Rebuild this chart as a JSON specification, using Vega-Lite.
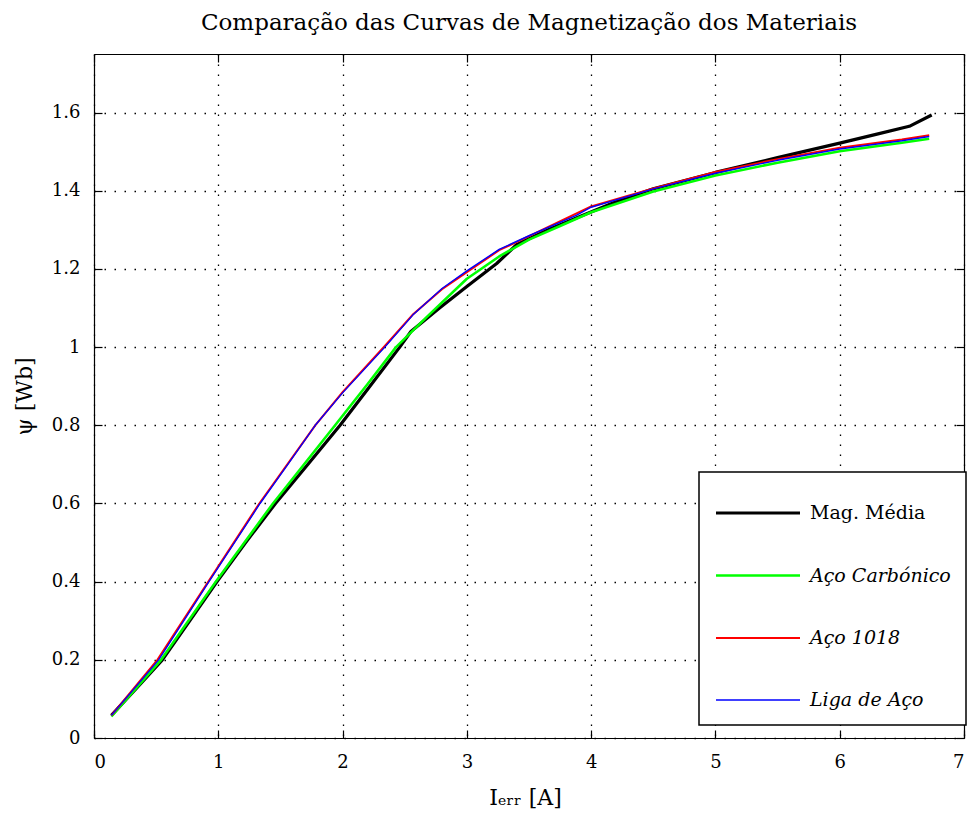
{
  "$schema": "https://vega.github.io/schema/vega-lite/v6.json",
  "width": 870,
  "height": 684,
  "autosize": {"type": "none"},
  "padding": {"left": 94, "top": 54, "right": 12, "bottom": 87},
  "background": "white",
  "title": {"text": "Comparação das Curvas de Magnetização dos Materiais", "font": "DejaVu Serif", "fontSize": 23, "fontWeight": "normal", "color": "black", "offset": 18, "anchor": "middle"},
  "config": {
    "view": {"stroke": null},
    "legend": {"strokeWidth": 1.5},
    "axis": {
      "domainColor": "black", "domainWidth": 1.2,
      "tickColor": "black", "tickSize": -8, "tickWidth": 1.2,
      "gridColor": "black", "gridDash": [1.5, 8.5], "gridWidth": 1.3, "gridOpacity": 1,
      "labelFont": "DejaVu Serif", "labelFontSize": 18, "labelColor": "black",
      "titleFont": "DejaVu Serif", "titleFontSize": 22, "titleFontWeight": "normal", "titleColor": "black"
    }
  },
  "data": {"values": [
    {"s": "Mag. Média", "I": 0.14, "psi": 0.058},
    {"s": "Mag. Média", "I": 0.35, "psi": 0.13},
    {"s": "Mag. Média", "I": 0.55, "psi": 0.20},
    {"s": "Mag. Média", "I": 0.77, "psi": 0.30},
    {"s": "Mag. Média", "I": 0.99, "psi": 0.40},
    {"s": "Mag. Média", "I": 1.22, "psi": 0.50},
    {"s": "Mag. Média", "I": 1.46, "psi": 0.60},
    {"s": "Mag. Média", "I": 1.72, "psi": 0.70},
    {"s": "Mag. Média", "I": 1.98, "psi": 0.80},
    {"s": "Mag. Média", "I": 2.22, "psi": 0.90},
    {"s": "Mag. Média", "I": 2.46, "psi": 1.00},
    {"s": "Mag. Média", "I": 2.55, "psi": 1.04},
    {"s": "Mag. Média", "I": 2.78, "psi": 1.10},
    {"s": "Mag. Média", "I": 3.0, "psi": 1.155},
    {"s": "Mag. Média", "I": 3.24, "psi": 1.214},
    {"s": "Mag. Média", "I": 3.4, "psi": 1.262},
    {"s": "Mag. Média", "I": 3.65, "psi": 1.30},
    {"s": "Mag. Média", "I": 3.9, "psi": 1.333},
    {"s": "Mag. Média", "I": 4.2, "psi": 1.372},
    {"s": "Mag. Média", "I": 4.5, "psi": 1.405},
    {"s": "Mag. Média", "I": 5.0, "psi": 1.447},
    {"s": "Mag. Média", "I": 5.5, "psi": 1.485},
    {"s": "Mag. Média", "I": 6.0, "psi": 1.522},
    {"s": "Mag. Média", "I": 6.3, "psi": 1.545},
    {"s": "Mag. Média", "I": 6.56, "psi": 1.565},
    {"s": "Mag. Média", "I": 6.74, "psi": 1.594},
    {"s": "Aço Carbónico", "I": 0.14, "psi": 0.055},
    {"s": "Aço Carbónico", "I": 0.54, "psi": 0.20},
    {"s": "Aço Carbónico", "I": 0.98, "psi": 0.40},
    {"s": "Aço Carbónico", "I": 1.44, "psi": 0.60},
    {"s": "Aço Carbónico", "I": 1.94, "psi": 0.80},
    {"s": "Aço Carbónico", "I": 2.2, "psi": 0.905},
    {"s": "Aço Carbónico", "I": 2.43, "psi": 1.00},
    {"s": "Aço Carbónico", "I": 2.67, "psi": 1.075},
    {"s": "Aço Carbónico", "I": 3.0, "psi": 1.175},
    {"s": "Aço Carbónico", "I": 3.26, "psi": 1.232},
    {"s": "Aço Carbónico", "I": 3.5, "psi": 1.275},
    {"s": "Aço Carbónico", "I": 3.75, "psi": 1.31},
    {"s": "Aço Carbónico", "I": 4.0, "psi": 1.345},
    {"s": "Aço Carbónico", "I": 4.5, "psi": 1.398},
    {"s": "Aço Carbónico", "I": 5.0, "psi": 1.439},
    {"s": "Aço Carbónico", "I": 5.5, "psi": 1.472},
    {"s": "Aço Carbónico", "I": 6.0, "psi": 1.501},
    {"s": "Aço Carbónico", "I": 6.5, "psi": 1.523},
    {"s": "Aço Carbónico", "I": 6.72, "psi": 1.533},
    {"s": "Aço 1018", "I": 0.14, "psi": 0.058},
    {"s": "Aço 1018", "I": 0.51, "psi": 0.20},
    {"s": "Aço 1018", "I": 0.92, "psi": 0.40},
    {"s": "Aço 1018", "I": 1.33, "psi": 0.60},
    {"s": "Aço 1018", "I": 1.78, "psi": 0.80},
    {"s": "Aço 1018", "I": 2.0, "psi": 0.885},
    {"s": "Aço 1018", "I": 2.34, "psi": 1.003},
    {"s": "Aço 1018", "I": 2.57, "psi": 1.085},
    {"s": "Aço 1018", "I": 2.8, "psi": 1.148},
    {"s": "Aço 1018", "I": 3.0, "psi": 1.192},
    {"s": "Aço 1018", "I": 3.26, "psi": 1.248},
    {"s": "Aço 1018", "I": 3.5, "psi": 1.284},
    {"s": "Aço 1018", "I": 4.0, "psi": 1.36},
    {"s": "Aço 1018", "I": 4.5, "psi": 1.406},
    {"s": "Aço 1018", "I": 5.0, "psi": 1.448},
    {"s": "Aço 1018", "I": 5.5, "psi": 1.481},
    {"s": "Aço 1018", "I": 6.0, "psi": 1.51},
    {"s": "Aço 1018", "I": 6.5, "psi": 1.531},
    {"s": "Aço 1018", "I": 6.72, "psi": 1.542},
    {"s": "Liga de Aço", "I": 0.14, "psi": 0.058},
    {"s": "Liga de Aço", "I": 0.52, "psi": 0.20},
    {"s": "Liga de Aço", "I": 0.925, "psi": 0.40},
    {"s": "Liga de Aço", "I": 1.336, "psi": 0.60},
    {"s": "Liga de Aço", "I": 1.56, "psi": 0.70},
    {"s": "Liga de Aço", "I": 1.78, "psi": 0.80},
    {"s": "Liga de Aço", "I": 2.0, "psi": 0.883},
    {"s": "Liga de Aço", "I": 2.34, "psi": 1.00},
    {"s": "Liga de Aço", "I": 2.565, "psi": 1.082},
    {"s": "Liga de Aço", "I": 2.8, "psi": 1.15},
    {"s": "Liga de Aço", "I": 3.0, "psi": 1.195},
    {"s": "Liga de Aço", "I": 3.26, "psi": 1.25},
    {"s": "Liga de Aço", "I": 3.5, "psi": 1.285},
    {"s": "Liga de Aço", "I": 3.88, "psi": 1.337},
    {"s": "Liga de Aço", "I": 4.0, "psi": 1.358},
    {"s": "Liga de Aço", "I": 4.5, "psi": 1.405},
    {"s": "Liga de Aço", "I": 5.0, "psi": 1.445},
    {"s": "Liga de Aço", "I": 5.5, "psi": 1.478},
    {"s": "Liga de Aço", "I": 6.0, "psi": 1.507},
    {"s": "Liga de Aço", "I": 6.5, "psi": 1.528},
    {"s": "Liga de Aço", "I": 6.72, "psi": 1.539}
  ]},
  "layer": [
    {
      "mark": {"type": "line", "strokeJoin": "round", "strokeCap": "butt"},
      "encoding": {
        "x": {"field": "I", "type": "quantitative", "scale": {"domain": [0, 7], "nice": false, "zero": false},
          "axis": {"orient": "bottom", "values": [0, 1, 2, 3, 4, 5, 6, 7], "format": "d", "grid": true, "labelPadding": 23,
            "title": "Iₑᵣᵣ [A]", "titleX": 431, "titleY": 66, "titleBaseline": "alphabetic", "titleAlign": "center"}},
        "y": {"field": "psi", "type": "quantitative", "scale": {"domain": [0, 1.75], "nice": false, "zero": false},
          "axis": {"orient": "left", "values": [0, 0.2, 0.4, 0.6, 0.8, 1, 1.2, 1.4, 1.6], "format": "~g", "grid": true, "labelPadding": 22,
            "title": "ψ [Wb]", "titleX": -70, "titleY": 342, "titleAngle": 270, "titleBaseline": "middle", "titleAlign": "center"}},
        "color": {"field": "s", "type": "nominal",
          "scale": {"domain": ["Mag. Média", "Aço Carbónico", "Aço 1018", "Liga de Aço"], "range": ["#000000", "#00ff00", "#ff0000", "#0000ff"]},
          "legend": {"title": null, "orient": "none", "legendX": 605, "legendY": 418, "strokeColor": "black", "fillColor": "white",
            "padding": 15, "symbolType": "M-1,0H2.5", "symbolSize": 2304, "labelFont": "DejaVu Serif", "labelFontSize": 19,
            "labelColor": "black", "labelOffset": 44, "rowPadding": 27, "labelLimit": 400,
            "encode": {"labels": {"update": {"fontStyle": {"signal": "datum.value === 'Mag. Média' ? 'normal' : 'italic'"}}}}}},
        "strokeWidth": {"field": "s", "type": "nominal",
          "scale": {"domain": ["Mag. Média", "Aço Carbónico", "Aço 1018", "Liga de Aço"], "range": [3.2, 1.4, 1.4, 1.4]},
          "legend": {"title": null, "orient": "none", "legendX": 605, "legendY": 418, "strokeColor": "black", "fillColor": "white",
            "padding": 15, "symbolType": "M-1,0H2.5", "symbolSize": 2304, "labelFont": "DejaVu Serif", "labelFontSize": 19,
            "labelColor": "black", "labelOffset": 44, "rowPadding": 27, "labelLimit": 400,
            "encode": {"labels": {"update": {"fontStyle": {"signal": "datum.value === 'Mag. Média' ? 'normal' : 'italic'"}}}}}}
      }
    },
    {
      "mark": {"type": "point", "opacity": 0},
      "encoding": {
        "x": {"field": "I", "type": "quantitative", "scale": {"domain": [0, 7], "nice": false, "zero": false},
          "axis": {"orient": "top", "values": [0, 1, 2, 3, 4, 5, 6, 7], "labels": false, "grid": false, "title": null}},
        "y": {"field": "psi", "type": "quantitative", "scale": {"domain": [0, 1.75], "nice": false, "zero": false},
          "axis": {"orient": "right", "values": [0, 0.2, 0.4, 0.6, 0.8, 1, 1.2, 1.4, 1.6], "labels": false, "grid": false, "title": null}}
      }
    }
  ],
  "resolve": {"axis": {"x": "independent", "y": "independent"}}
}
